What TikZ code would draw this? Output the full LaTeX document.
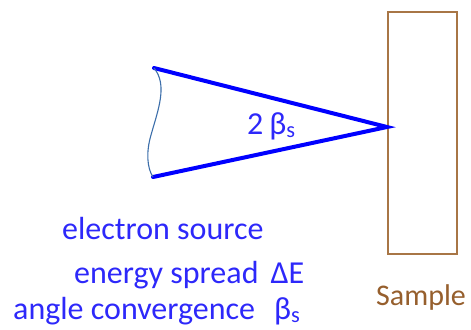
\documentclass[tikz,border=0pt]{standalone}
\usepackage{fontspec}
\setmainfont{Carlito}
\definecolor{beam}{RGB}{0,0,255}
\definecolor{txtblue}{RGB}{45,40,250}
\definecolor{wave}{RGB}{60,110,170}
\definecolor{brownish}{RGB}{168,118,70}
\definecolor{brtext}{RGB}{150,95,45}
\begin{document}
\begin{tikzpicture}[x=1bp,y=-1bp,
  lbl/.style={inner sep=0pt,anchor=base west,font=\fontsize{32bp}{38bp}\selectfont},
  beamline/.style={draw=beam,line width=4bp,line cap=round}]
\useasboundingbox (0,0) rectangle (471,329);
\coordinate (tl) at (154,68);
\coordinate (bl) at (153,177);
\coordinate (apex) at (387,127);
\node[draw=brownish,line width=1.6bp,minimum width=69bp,minimum height=242bp,inner sep=0pt,anchor=north west] (sample) at (387,11) {};
\draw[beamline] (tl) -- (apex) -- (bl);
\draw[wave,line width=1.1bp] (tl) .. controls (168,85) and (158,110) .. (151,135) .. controls (146,152) and (147,168) .. (bl);
\node[lbl,text=txtblue] (beta) at (247,134) {2\hspace{6bp}β\textsubscript{s}};
\node[lbl,text=txtblue] (src) at (62,239) {electron source};
\node[lbl,text=txtblue] (es) at (74,283) {energy spread\hspace{12bp}ΔE};
\node[lbl,text=txtblue] (ac) at (13,319) {angle convergence\hspace{19bp}β\textsubscript{s}};
\node[lbl,text=brtext,font=\fontsize{30bp}{36bp}\selectfont] (samplelbl) at (376,305) {Sample};
\end{tikzpicture}
\end{document}
